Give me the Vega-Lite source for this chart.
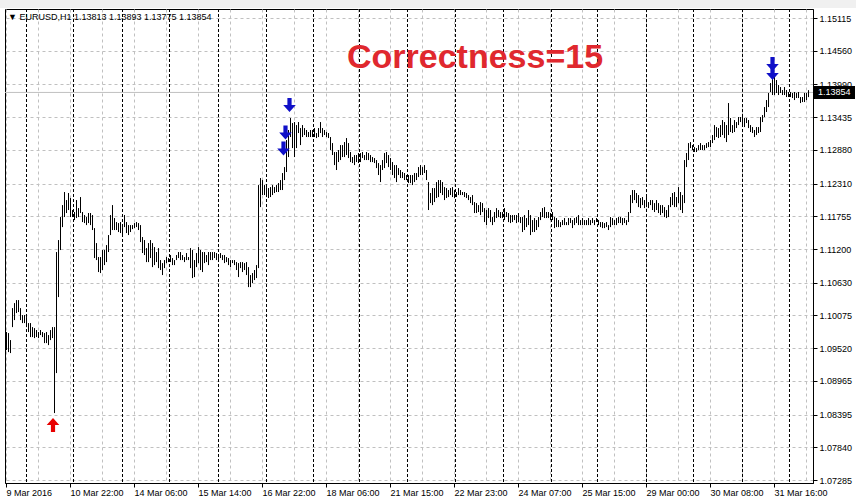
{
"$schema": "https://vega.github.io/schema/vega-lite/v6.json",
"width": 808, "height": 474,
"autosize": "none",
"padding": {"left": 5, "top": 9, "right": 43, "bottom": 21},
"background": "white",
"config": {"view": {"stroke": "black", "strokeWidth": 1, "fill": "white"}, "font": "Liberation Sans"},
"datasets": {
"bars": [
{"i":0,"hi":1.09793,"lo":1.09488},{"i":1,"hi":1.09776,"lo":1.09454},{"i":2,"hi":1.09657,"lo":1.09437},{"i":3,"hi":1.10199,"lo":1.09877},{"i":4,"hi":1.10284,"lo":1.09996},{"i":5,"hi":1.10335,"lo":1.10115},{"i":6,"hi":1.10335,"lo":1.10132},{"i":7,"hi":1.10199,"lo":1.09996},{"i":8,"hi":1.10081,"lo":1.09945},{"i":9,"hi":1.10081,"lo":1.09945},
{"i":10,"hi":1.10047,"lo":1.09877},{"i":11,"hi":1.09945,"lo":1.09793},{"i":12,"hi":1.09945,"lo":1.09708},{"i":13,"hi":1.09877,"lo":1.09708},{"i":14,"hi":1.0986,"lo":1.09691},{"i":15,"hi":1.09827,"lo":1.09708},{"i":16,"hi":1.09793,"lo":1.09691},{"i":17,"hi":1.09827,"lo":1.09742},{"i":18,"hi":1.09793,"lo":1.09708},{"i":19,"hi":1.09776,"lo":1.09606},
{"i":20,"hi":1.09793,"lo":1.09606},{"i":21,"hi":1.09742,"lo":1.09572},{"i":22,"hi":1.09827,"lo":1.09657},{"i":23,"hi":1.09877,"lo":1.09691},{"i":24,"hi":1.09877,"lo":1.0842},{"i":25,"hi":1.11149,"lo":1.09098},{"i":26,"hi":1.11352,"lo":1.10386},{"i":27,"hi":1.11742,"lo":1.11183},{"i":28,"hi":1.11945,"lo":1.11572},{"i":29,"hi":1.12166,"lo":1.11742},
{"i":30,"hi":1.1203,"lo":1.1181},{"i":31,"hi":1.12149,"lo":1.11861},{"i":32,"hi":1.12064,"lo":1.11742},{"i":33,"hi":1.11861,"lo":1.11742},{"i":34,"hi":1.11827,"lo":1.11691},{"i":35,"hi":1.1203,"lo":1.11725},{"i":36,"hi":1.11894,"lo":1.11742},{"i":37,"hi":1.12081,"lo":1.1181},{"i":38,"hi":1.11827,"lo":1.11657},{"i":39,"hi":1.11776,"lo":1.1164},
{"i":40,"hi":1.11742,"lo":1.11606},{"i":41,"hi":1.1181,"lo":1.1164},{"i":42,"hi":1.1181,"lo":1.11606},{"i":43,"hi":1.11776,"lo":1.11522},{"i":44,"hi":1.11555,"lo":1.11047},{"i":45,"hi":1.11301,"lo":1.11013},{"i":46,"hi":1.11064,"lo":1.1081},{"i":47,"hi":1.11064,"lo":1.10793},{"i":48,"hi":1.11183,"lo":1.10844},{"i":49,"hi":1.11183,"lo":1.10928},
{"i":50,"hi":1.11267,"lo":1.10979},{"i":51,"hi":1.11437,"lo":1.11149},{"i":52,"hi":1.11776,"lo":1.11437},{"i":53,"hi":1.11945,"lo":1.11522},{"i":54,"hi":1.11725,"lo":1.11522},{"i":55,"hi":1.11657,"lo":1.11522},{"i":56,"hi":1.1164,"lo":1.11488},{"i":57,"hi":1.11657,"lo":1.11471},{"i":58,"hi":1.11572,"lo":1.11437},{"i":59,"hi":1.11776,"lo":1.11572},
{"i":60,"hi":1.11657,"lo":1.11471},{"i":61,"hi":1.11606,"lo":1.11437},{"i":62,"hi":1.11606,"lo":1.11488},{"i":63,"hi":1.11606,"lo":1.11538},{"i":64,"hi":1.1164,"lo":1.11555},{"i":65,"hi":1.11657,"lo":1.11572},{"i":66,"hi":1.1164,"lo":1.11522},{"i":67,"hi":1.11606,"lo":1.11318},{"i":68,"hi":1.11403,"lo":1.11132},{"i":69,"hi":1.11352,"lo":1.11098},
{"i":70,"hi":1.11216,"lo":1.10979},{"i":71,"hi":1.11301,"lo":1.10979},{"i":72,"hi":1.11352,"lo":1.11047},{"i":73,"hi":1.11301,"lo":1.10894},{"i":74,"hi":1.11233,"lo":1.10928},{"i":75,"hi":1.11149,"lo":1.10979},{"i":76,"hi":1.11216,"lo":1.10877},{"i":77,"hi":1.11013,"lo":1.10844},{"i":78,"hi":1.10962,"lo":1.10759},{"i":79,"hi":1.11013,"lo":1.10877},
{"i":80,"hi":1.11064,"lo":1.10962},{"i":81,"hi":1.11047,"lo":1.10979},{"i":82,"hi":1.11098,"lo":1.10979},{"i":83,"hi":1.11047,"lo":1.10928},{"i":84,"hi":1.11013,"lo":1.10928},{"i":85,"hi":1.11098,"lo":1.11013},{"i":86,"hi":1.11149,"lo":1.11047},{"i":87,"hi":1.11149,"lo":1.11013},{"i":88,"hi":1.11098,"lo":1.11013},{"i":89,"hi":1.11064,"lo":1.10979},
{"i":90,"hi":1.11132,"lo":1.11013},{"i":91,"hi":1.11064,"lo":1.11013},{"i":92,"hi":1.11216,"lo":1.10877},{"i":93,"hi":1.11183,"lo":1.10708},{"i":94,"hi":1.11013,"lo":1.10725},{"i":95,"hi":1.11132,"lo":1.10894},{"i":96,"hi":1.11233,"lo":1.10962},{"i":97,"hi":1.11183,"lo":1.10844},{"i":98,"hi":1.11149,"lo":1.1081},{"i":99,"hi":1.11149,"lo":1.10962},
{"i":100,"hi":1.11098,"lo":1.10979},{"i":101,"hi":1.11149,"lo":1.10928},{"i":102,"hi":1.11149,"lo":1.11013},{"i":103,"hi":1.11149,"lo":1.11013},{"i":104,"hi":1.11149,"lo":1.11047},{"i":105,"hi":1.11132,"lo":1.11013},{"i":106,"hi":1.11098,"lo":1.11013},{"i":107,"hi":1.11132,"lo":1.11047},{"i":108,"hi":1.11098,"lo":1.11013},{"i":109,"hi":1.11098,"lo":1.10962},
{"i":110,"hi":1.11064,"lo":1.10979},{"i":111,"hi":1.11047,"lo":1.10928},{"i":112,"hi":1.11013,"lo":1.10894},{"i":113,"hi":1.11013,"lo":1.10962},{"i":114,"hi":1.11013,"lo":1.10928},{"i":115,"hi":1.10979,"lo":1.10844},{"i":116,"hi":1.10962,"lo":1.10725},{"i":117,"hi":1.10979,"lo":1.10877},{"i":118,"hi":1.10979,"lo":1.1081},{"i":119,"hi":1.10962,"lo":1.10844},
{"i":120,"hi":1.10979,"lo":1.10759},{"i":121,"hi":1.10894,"lo":1.10555},{"i":122,"hi":1.10759,"lo":1.10555},{"i":123,"hi":1.10793,"lo":1.10623},{"i":124,"hi":1.10844,"lo":1.10674},{"i":125,"hi":1.10928,"lo":1.10708},{"i":126,"hi":1.12284,"lo":1.10877},{"i":127,"hi":1.12403,"lo":1.11911},{"i":128,"hi":1.12369,"lo":1.12115},{"i":129,"hi":1.12284,"lo":1.12115},
{"i":130,"hi":1.1225,"lo":1.12081},{"i":131,"hi":1.12233,"lo":1.12064},{"i":132,"hi":1.1225,"lo":1.12081},{"i":133,"hi":1.12284,"lo":1.12115},{"i":134,"hi":1.1225,"lo":1.12149},{"i":135,"hi":1.12284,"lo":1.12166},{"i":136,"hi":1.12318,"lo":1.12166},{"i":137,"hi":1.12369,"lo":1.122},{"i":138,"hi":1.12488,"lo":1.122},{"i":139,"hi":1.12589,"lo":1.12369},
{"i":140,"hi":1.13047,"lo":1.12505},{"i":141,"hi":1.13217,"lo":1.12759},{"i":142,"hi":1.1342,"lo":1.13098},{"i":143,"hi":1.13335,"lo":1.12911},{"i":144,"hi":1.13352,"lo":1.12759},{"i":145,"hi":1.13301,"lo":1.12911},{"i":146,"hi":1.13352,"lo":1.13166},{"i":147,"hi":1.1325,"lo":1.12962},{"i":148,"hi":1.13301,"lo":1.13098},{"i":149,"hi":1.1325,"lo":1.13132},
{"i":150,"hi":1.13217,"lo":1.13098},{"i":151,"hi":1.13183,"lo":1.13098},{"i":152,"hi":1.13217,"lo":1.13098},{"i":153,"hi":1.13217,"lo":1.13098},{"i":154,"hi":1.1325,"lo":1.13098},{"i":155,"hi":1.13166,"lo":1.13081},{"i":156,"hi":1.1325,"lo":1.13098},{"i":157,"hi":1.13352,"lo":1.13166},{"i":158,"hi":1.1325,"lo":1.13098},{"i":159,"hi":1.13217,"lo":1.13132},
{"i":160,"hi":1.13183,"lo":1.13098},{"i":161,"hi":1.13166,"lo":1.13081},{"i":162,"hi":1.13098,"lo":1.12878},{"i":163,"hi":1.12996,"lo":1.12793},{"i":164,"hi":1.12844,"lo":1.12623},{"i":165,"hi":1.12844,"lo":1.12539},{"i":166,"hi":1.12878,"lo":1.12674},{"i":167,"hi":1.12962,"lo":1.12708},{"i":168,"hi":1.12962,"lo":1.12759},{"i":169,"hi":1.13013,"lo":1.12759},
{"i":170,"hi":1.13081,"lo":1.12793},{"i":171,"hi":1.12996,"lo":1.12742},{"i":172,"hi":1.12844,"lo":1.12674},{"i":173,"hi":1.12759,"lo":1.12657},{"i":174,"hi":1.12793,"lo":1.12623},{"i":175,"hi":1.12793,"lo":1.12674},{"i":176,"hi":1.12827,"lo":1.12657},{"i":177,"hi":1.12827,"lo":1.12674},{"i":178,"hi":1.12844,"lo":1.12742},{"i":179,"hi":1.12793,"lo":1.12708},
{"i":180,"hi":1.12844,"lo":1.12708},{"i":181,"hi":1.12827,"lo":1.12708},{"i":182,"hi":1.12793,"lo":1.12674},{"i":183,"hi":1.12759,"lo":1.12674},{"i":184,"hi":1.12742,"lo":1.12657},{"i":185,"hi":1.12708,"lo":1.12572},{"i":186,"hi":1.12657,"lo":1.12454},{"i":187,"hi":1.12623,"lo":1.12335},{"i":188,"hi":1.12708,"lo":1.12539},{"i":189,"hi":1.12827,"lo":1.12572},
{"i":190,"hi":1.12844,"lo":1.12657},{"i":191,"hi":1.12793,"lo":1.12589},{"i":192,"hi":1.12742,"lo":1.12539},{"i":193,"hi":1.12674,"lo":1.12454},{"i":194,"hi":1.12623,"lo":1.12403},{"i":195,"hi":1.12623,"lo":1.12335},{"i":196,"hi":1.12572,"lo":1.12454},{"i":197,"hi":1.12539,"lo":1.12403},{"i":198,"hi":1.12505,"lo":1.12403},{"i":199,"hi":1.12488,"lo":1.12369},
{"i":200,"hi":1.12454,"lo":1.12369},{"i":201,"hi":1.12454,"lo":1.12318},{"i":202,"hi":1.12454,"lo":1.12318},{"i":203,"hi":1.12454,"lo":1.12284},{"i":204,"hi":1.12488,"lo":1.12335},{"i":205,"hi":1.12488,"lo":1.12369},{"i":206,"hi":1.12589,"lo":1.1242},{"i":207,"hi":1.12623,"lo":1.12454},{"i":208,"hi":1.12589,"lo":1.12454},{"i":209,"hi":1.12623,"lo":1.12488},
{"i":210,"hi":1.12539,"lo":1.12369},{"i":211,"hi":1.12335,"lo":1.11861},{"i":212,"hi":1.12149,"lo":1.11979},{"i":213,"hi":1.12233,"lo":1.11945},{"i":214,"hi":1.12233,"lo":1.11996},{"i":215,"hi":1.12335,"lo":1.12064},{"i":216,"hi":1.12369,"lo":1.12081},{"i":217,"hi":1.12369,"lo":1.12149},{"i":218,"hi":1.12335,"lo":1.12115},{"i":219,"hi":1.1225,"lo":1.1203},
{"i":220,"hi":1.12233,"lo":1.12064},{"i":221,"hi":1.122,"lo":1.12081},{"i":222,"hi":1.12233,"lo":1.12115},{"i":223,"hi":1.1225,"lo":1.12081},{"i":224,"hi":1.122,"lo":1.12064},{"i":225,"hi":1.12166,"lo":1.12081},{"i":226,"hi":1.12233,"lo":1.12115},{"i":227,"hi":1.122,"lo":1.12115},{"i":228,"hi":1.12166,"lo":1.12115},{"i":229,"hi":1.12166,"lo":1.12081},
{"i":230,"hi":1.12149,"lo":1.12064},{"i":231,"hi":1.12115,"lo":1.1203},{"i":232,"hi":1.12081,"lo":1.11979},{"i":233,"hi":1.12115,"lo":1.11945},{"i":234,"hi":1.11996,"lo":1.1181},{"i":235,"hi":1.11979,"lo":1.1181},{"i":236,"hi":1.11945,"lo":1.11827},{"i":237,"hi":1.11996,"lo":1.11776},{"i":238,"hi":1.11979,"lo":1.11827},{"i":239,"hi":1.11894,"lo":1.11657},
{"i":240,"hi":1.11861,"lo":1.11606},{"i":241,"hi":1.11894,"lo":1.11725},{"i":242,"hi":1.11861,"lo":1.11657},{"i":243,"hi":1.11742,"lo":1.11606},{"i":244,"hi":1.11827,"lo":1.11657},{"i":245,"hi":1.11894,"lo":1.11725},{"i":246,"hi":1.11861,"lo":1.11742},{"i":247,"hi":1.11827,"lo":1.11725},{"i":248,"hi":1.11827,"lo":1.11725},{"i":249,"hi":1.11894,"lo":1.11691},
{"i":250,"hi":1.11827,"lo":1.11742},{"i":251,"hi":1.1181,"lo":1.11657},{"i":252,"hi":1.11776,"lo":1.1164},{"i":253,"hi":1.11776,"lo":1.11657},{"i":254,"hi":1.11776,"lo":1.11691},{"i":255,"hi":1.11776,"lo":1.1164},{"i":256,"hi":1.1181,"lo":1.11657},{"i":257,"hi":1.11742,"lo":1.1164},{"i":258,"hi":1.11742,"lo":1.11488},{"i":259,"hi":1.11776,"lo":1.11522},
{"i":260,"hi":1.11725,"lo":1.11572},{"i":261,"hi":1.11861,"lo":1.11606},{"i":262,"hi":1.11776,"lo":1.11437},{"i":263,"hi":1.11691,"lo":1.11488},{"i":264,"hi":1.11725,"lo":1.11488},{"i":265,"hi":1.11691,"lo":1.11522},{"i":266,"hi":1.11742,"lo":1.11572},{"i":267,"hi":1.11827,"lo":1.11691},{"i":268,"hi":1.11894,"lo":1.11742},{"i":269,"hi":1.11911,"lo":1.11725},
{"i":270,"hi":1.11827,"lo":1.11725},{"i":271,"hi":1.11827,"lo":1.11725},{"i":272,"hi":1.1181,"lo":1.11691},{"i":273,"hi":1.11827,"lo":1.11691},{"i":274,"hi":1.11742,"lo":1.11555},{"i":275,"hi":1.11725,"lo":1.11572},{"i":276,"hi":1.11691,"lo":1.11572},{"i":277,"hi":1.11657,"lo":1.11572},{"i":278,"hi":1.11691,"lo":1.11606},{"i":279,"hi":1.11725,"lo":1.11606},
{"i":280,"hi":1.11657,"lo":1.11606},{"i":281,"hi":1.11725,"lo":1.11606},{"i":282,"hi":1.11725,"lo":1.1164},{"i":283,"hi":1.11691,"lo":1.11555},{"i":284,"hi":1.11725,"lo":1.11606},{"i":285,"hi":1.11742,"lo":1.1164},{"i":286,"hi":1.11776,"lo":1.11606},{"i":287,"hi":1.11691,"lo":1.11606},{"i":288,"hi":1.11725,"lo":1.11606},{"i":289,"hi":1.11691,"lo":1.11606},
{"i":290,"hi":1.11691,"lo":1.11606},{"i":291,"hi":1.11725,"lo":1.11606},{"i":292,"hi":1.11691,"lo":1.11606},{"i":293,"hi":1.11725,"lo":1.1164},{"i":294,"hi":1.11691,"lo":1.11606},{"i":295,"hi":1.11725,"lo":1.11657},{"i":296,"hi":1.11691,"lo":1.11606},{"i":297,"hi":1.11657,"lo":1.11572},{"i":298,"hi":1.11657,"lo":1.11555},{"i":299,"hi":1.1164,"lo":1.11555},
{"i":300,"hi":1.11657,"lo":1.11572},{"i":301,"hi":1.11606,"lo":1.11522},{"i":302,"hi":1.11742,"lo":1.11572},{"i":303,"hi":1.11725,"lo":1.11606},{"i":304,"hi":1.11691,"lo":1.11606},{"i":305,"hi":1.11725,"lo":1.11606},{"i":306,"hi":1.11742,"lo":1.1164},{"i":307,"hi":1.11742,"lo":1.1164},{"i":308,"hi":1.11725,"lo":1.11606},{"i":309,"hi":1.11725,"lo":1.1164},
{"i":310,"hi":1.11691,"lo":1.11606},{"i":311,"hi":1.11827,"lo":1.11657},{"i":312,"hi":1.12115,"lo":1.1181},{"i":313,"hi":1.122,"lo":1.11979},{"i":314,"hi":1.122,"lo":1.1203},{"i":315,"hi":1.12149,"lo":1.11979},{"i":316,"hi":1.12115,"lo":1.11911},{"i":317,"hi":1.12064,"lo":1.11894},{"i":318,"hi":1.12081,"lo":1.11945},{"i":319,"hi":1.1203,"lo":1.11894},
{"i":320,"hi":1.12081,"lo":1.11945},{"i":321,"hi":1.11996,"lo":1.11894},{"i":322,"hi":1.1203,"lo":1.11945},{"i":323,"hi":1.1203,"lo":1.11861},{"i":324,"hi":1.11979,"lo":1.11827},{"i":325,"hi":1.1203,"lo":1.11861},{"i":326,"hi":1.11979,"lo":1.1181},{"i":327,"hi":1.11945,"lo":1.11776},{"i":328,"hi":1.11945,"lo":1.1181},{"i":329,"hi":1.11911,"lo":1.11742},
{"i":330,"hi":1.11861,"lo":1.11725},{"i":331,"hi":1.11945,"lo":1.11742},{"i":332,"hi":1.12081,"lo":1.11911},{"i":333,"hi":1.12149,"lo":1.11945},{"i":334,"hi":1.12166,"lo":1.11911},{"i":335,"hi":1.12081,"lo":1.11911},{"i":336,"hi":1.1225,"lo":1.11979},{"i":337,"hi":1.12166,"lo":1.11861},{"i":338,"hi":1.12115,"lo":1.1181},{"i":339,"hi":1.12708,"lo":1.11979},
{"i":340,"hi":1.12827,"lo":1.12589},{"i":341,"hi":1.12996,"lo":1.12708},{"i":342,"hi":1.13013,"lo":1.12911},{"i":343,"hi":1.12962,"lo":1.12878},{"i":344,"hi":1.12928,"lo":1.12844},{"i":345,"hi":1.12911,"lo":1.12844},{"i":346,"hi":1.12962,"lo":1.12878},{"i":347,"hi":1.12996,"lo":1.12878},{"i":348,"hi":1.12962,"lo":1.12878},{"i":349,"hi":1.12962,"lo":1.12878},
{"i":350,"hi":1.12996,"lo":1.12911},{"i":351,"hi":1.13013,"lo":1.12928},{"i":352,"hi":1.13047,"lo":1.12928},{"i":353,"hi":1.13132,"lo":1.12996},{"i":354,"hi":1.13301,"lo":1.13047},{"i":355,"hi":1.13267,"lo":1.13098},{"i":356,"hi":1.1325,"lo":1.13081},{"i":357,"hi":1.13301,"lo":1.13098},{"i":358,"hi":1.13386,"lo":1.13132},{"i":359,"hi":1.13352,"lo":1.13081},
{"i":360,"hi":1.13301,"lo":1.13013},{"i":361,"hi":1.13674,"lo":1.13132},{"i":362,"hi":1.1342,"lo":1.13183},{"i":363,"hi":1.13301,"lo":1.13166},{"i":364,"hi":1.13386,"lo":1.13183},{"i":365,"hi":1.13352,"lo":1.1325},{"i":366,"hi":1.13437,"lo":1.13301},{"i":367,"hi":1.13437,"lo":1.13352},{"i":368,"hi":1.13437,"lo":1.13301},{"i":369,"hi":1.1342,"lo":1.13267},
{"i":370,"hi":1.1342,"lo":1.13335},{"i":371,"hi":1.13386,"lo":1.1325},{"i":372,"hi":1.13301,"lo":1.13183},{"i":373,"hi":1.13267,"lo":1.13166},{"i":374,"hi":1.13217,"lo":1.13098},{"i":375,"hi":1.13267,"lo":1.13132},{"i":376,"hi":1.13267,"lo":1.13166},{"i":377,"hi":1.13437,"lo":1.13183},{"i":378,"hi":1.13471,"lo":1.13352},{"i":379,"hi":1.13606,"lo":1.13437},
{"i":380,"hi":1.13725,"lo":1.13522},{"i":381,"hi":1.13844,"lo":1.13606},{"i":382,"hi":1.14013,"lo":1.13861},{"i":383,"hi":1.14098,"lo":1.1381},{"i":384,"hi":1.14115,"lo":1.1381},{"i":385,"hi":1.14064,"lo":1.13844},{"i":386,"hi":1.13979,"lo":1.1381},{"i":387,"hi":1.13945,"lo":1.13844},{"i":388,"hi":1.13895,"lo":1.1381},{"i":389,"hi":1.13945,"lo":1.1381},
{"i":390,"hi":1.13895,"lo":1.13776},{"i":391,"hi":1.13861,"lo":1.13776},{"i":392,"hi":1.13861,"lo":1.13776},{"i":393,"hi":1.13844,"lo":1.13759},{"i":394,"hi":1.13861,"lo":1.13725},{"i":395,"hi":1.13844,"lo":1.13759},{"i":396,"hi":1.13861,"lo":1.13759},{"i":397,"hi":1.13776,"lo":1.13674},{"i":398,"hi":1.13776,"lo":1.13691},{"i":399,"hi":1.13844,"lo":1.13691},
{"i":400,"hi":1.13844,"lo":1.13725},{"i":401,"hi":1.13893,"lo":1.13775}
],
"seps": [{"i":10},{"i":33.5},{"i":58},{"i":81.5},{"i":106},{"i":130},{"i":153.5},{"i":176.5},{"i":200.5},{"i":224.5},{"i":248.5},{"i":272.5},{"i":295.5},{"i":320},{"i":343.5},{"i":368},{"i":391.5}],
"arrows": [
{"i":23.5,"p":1.08216,"dir":"up"},
{"i":141.75,"p":1.1364,"dir":"down"},
{"i":139.75,"p":1.13174,"dir":"down"},
{"i":138.75,"p":1.12903,"dir":"down"},
{"i":383.25,"p":1.14335,"dir":"down"},
{"i":383.25,"p":1.14183,"dir":"down"}
]
},
"layer": [
{
"data": {"name": "bars"},
"mark": {"type": "rule", "color": "black", "strokeWidth": 1, "xOffset": 0.5, "opacity": 0},
"encoding": {
"x": {"field": "i", "type": "quantitative",
 "scale": {"domain": [-0.5, 403.5], "nice": false, "zero": false},
 "axis": {"title": null, "orient": "bottom", "tickCount": 60,
  "values": [0,16,32,48,64,80,96,112,128,144,160,176,192,208,224,240,256,272,288,304,320,336,352,368,384,400],
  "labelExpr": "datum.value % 32 == 0 ? ['9 Mar 2016','10 Mar 22:00','14 Mar 06:00','15 Mar 14:00','16 Mar 22:00','18 Mar 06:00','21 Mar 15:00','22 Mar 23:00','24 Mar 07:00','25 Mar 15:00','29 Mar 00:00','30 Mar 08:00','31 Mar 16:00'][datum.value / 32] : ''",
  "labelAlign": "left", "labelBaseline": "top", "labelFont": "Liberation Sans", "labelFontSize": 9, "labelColor": "black",
  "labelPadding": 1, "labelFlush": false, "labelOverlap": false, "labelBound": false,
  "tickSize": 4, "tickColor": {"condition": {"test": "datum.value % 32 == 0", "value": "black"}, "value": "transparent"},
  "domainColor": "black", "grid": true, "gridColor": "#c0c0c0", "gridDash": [3, 3], "gridWidth": 1}},
"y": {"field": "hi", "type": "quantitative",
 "scale": {"domain": [1.07235, 1.15268], "nice": false, "zero": false},
 "axis": {"title": null, "orient": "right", "tickCount": 40,
  "values": [1.07285,1.0784,1.08395,1.08965,1.0952,1.10075,1.1063,1.112,1.11755,1.1231,1.1288,1.13435,1.1399,1.1456,1.15115],
  "format": ".5f", "labelFont": "Liberation Sans", "labelFontSize": 9, "labelColor": "black", "labelPadding": 2,
  "tickSize": 4, "tickColor": "black", "domainColor": "black", "labelOverlap": false, "labelFlush": false,
  "grid": true, "gridColor": "#c0c0c0", "gridDash": [3, 3], "gridWidth": 1}},
"y2": {"field": "lo"}
}
},
{
"data": {"values": [{}]},
"mark": {"type": "rect", "fill": "#f0f0f0", "clip": false},
"encoding": {
"x": {"datum": -3, "type": "quantitative"},
"x2": {"datum": 426},
"y": {"datum": 1.15422, "type": "quantitative"},
"y2": {"datum": 1.15285}
}
},
{
"data": {"name": "seps"},
"mark": {"type": "rule", "color": "black", "strokeWidth": 1, "strokeDash": [3, 2], "xOffset": 0.5},
"encoding": {
"x": {"field": "i", "type": "quantitative"}
}
},
{
"data": {"values": [{}]},
"mark": {"type": "rule", "color": "#c0c0c0", "strokeWidth": 1},
"encoding": {
"y": {"datum": 1.13854, "type": "quantitative"}
}
},
{
"data": {"name": "bars"},
"mark": {"type": "rule", "color": "black", "strokeWidth": 1, "xOffset": 0.5},
"encoding": {
"x": {"field": "i", "type": "quantitative"},
"y": {"field": "hi", "type": "quantitative"},
"y2": {"field": "lo"}
}
},
{
"data": {"name": "arrows"},
"mark": {"type": "point", "filled": true, "size": 196, "opacity": 1},
"encoding": {
"x": {"field": "i", "type": "quantitative"},
"y": {"field": "p", "type": "quantitative"},
"shape": {"field": "dir", "type": "nominal", "legend": null, "scale": {"domain": ["up", "down"], "range": ["M-0.3,1L0.3,1L0.3,0L0.9,0L0,-1L-0.9,0L-0.3,0Z", "M-0.3,-1L0.3,-1L0.3,0L0.9,0L0,1L-0.9,0L-0.3,0Z"]}},
"color": {"field": "dir", "type": "nominal", "legend": null, "scale": {"domain": ["up", "down"], "range": ["#e80000", "#1010c8"]}}
}
},
{
"data": {"values": [{}]},
"mark": {"type": "text", "align": "left", "baseline": "middle", "font": "Liberation Sans", "fontSize": 9, "color": "black", "text": "▼ EURUSD,H1  1.13813 1.13893 1.13775 1.13854"},
"encoding": {
"x": {"datum": 1, "type": "quantitative"},
"y": {"datum": 1.15132, "type": "quantitative"}
}
},
{
"data": {"values": [{}]},
"mark": {"type": "text", "align": "left", "baseline": "alphabetic", "font": "Liberation Sans", "fontSize": 34, "fontWeight": "bold", "color": "#e0282e", "text": "Correctness=15"},
"encoding": {
"x": {"datum": 170.5, "type": "quantitative"},
"y": {"datum": 1.14268, "type": "quantitative"}
}
},
{
"data": {"values": [{}]},
"mark": {"type": "rect", "fill": "black"},
"encoding": {
"x": {"datum": 404, "type": "quantitative"},
"x2": {"datum": 424.5},
"y": {"datum": 1.13963, "type": "quantitative"},
"y2": {"datum": 1.13743}
}
},
{
"data": {"values": [{}]},
"mark": {"type": "text", "align": "left", "baseline": "middle", "font": "Liberation Sans", "fontSize": 9, "color": "white", "text": "1.13854"},
"encoding": {
"x": {"datum": 406, "type": "quantitative"},
"y": {"datum": 1.13854, "type": "quantitative"}
}
}
]
}
